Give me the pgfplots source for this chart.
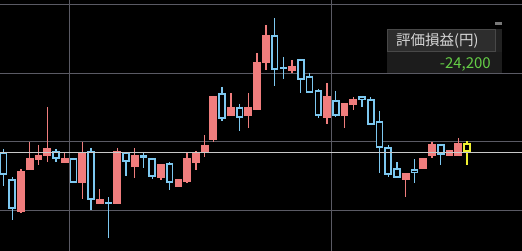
\documentclass[border=0pt]{standalone}
\usepackage{pgfplots}
\pgfplotsset{compat=1.18}
\usepackage{pgfplotstable}
\usepackage{fontspec}
\newfontfamily\cjk{Noto Sans CJK JP}
\definecolor{cred}{RGB}{240,125,125}
\definecolor{cblue}{RGB}{125,200,240}
\definecolor{cyel}{RGB}{240,240,50}
\definecolor{cgrid}{RGB}{90,90,100}
\definecolor{cline}{RGB}{200,200,200}
\definecolor{boxlab}{RGB}{45,45,45}
\definecolor{boxborder}{RGB}{72,72,72}
\definecolor{boxval}{RGB}{28,28,28}
\definecolor{boxside}{RGB}{34,34,34}
\definecolor{tlab}{RGB}{215,215,215}
\definecolor{tval}{RGB}{100,205,70}
\definecolor{cdash}{RGB}{120,120,120}

% columns: index, body top, body bottom, high, low (price axis drawn downward-reversed)
\pgfplotstableread{
i bt bb h l
3 171 212 169 213
4 158 170 142 170
5 155 160 145 165
6 148 156 107 162
8 158 163 153 163
10 152 183 142 199
12 199 204 189 204
14 151 204 148 204
16 155 167 148 178
19 164 178 164 180
21 179 187 179 187
22 158 182 153 183
23 152 163 151 170
24 145 153 135 157
25 96 140 96 142
27 107 116 93 116
29 107 116 93 128
30 62 110 53 110
31 35 63 25 70
34 66 71 60 73
38 96 118 83 124
40 103 116 103 128
41 99 105 97 110
47 173 180 173 197
49 158 169 158 169
50 144 156 142 158
52 150 156 150 156
53 143 156 138 156
}\redtab

\pgfplotstableread{
i bt bb h l
1 152 175 149 186
2 179 209 177 220
7 151 159 149 162
9 158 183 158 183
11 151 200 148 210
13 202 204 197 238
15 152 162 152 176
17 155 158 152 168
18 158 177 158 179
20 163 183 162 190
26 93 119 87 121
28 107 118 104 131
32 35 70 18 86
33 67 69 57 79
35 59 80 59 93
36 76 93 73 93
37 90 116 89 118
39 100 116 91 117
42 96 100 96 107
43 99 125 97 125
44 121 148 111 173
45 147 175 145 177
46 168 178 162 178
48 169 173 159 183
51 144 155 144 165
}\bluetab

\pgfplotstableread{
i bt bb h l
54 143 152 141 165
}\yeltab

\pgfplotsset{
  ebar/.style 2 args={draw=none, forget plot,
    error bars/y dir=plus, error bars/y explicit, error bars/error mark=none,
    error bars/error bar style={draw=#1, line width=#2, line cap=butt}},
}

\begin{document}
\begin{tikzpicture}
\fill[black] (0,0) rectangle (522pt,251pt);
\begin{axis}[at={(0,0)}, anchor=south west, width=522pt, height=251pt,
  scale only axis, hide axis, xmin=0.5998, xmax=60.29, ymin=0, ymax=251,
  y dir=reverse, clip=true]
% grid
\addplot[cgrid, line width=0.9pt, forget plot] coordinates {(0.5998,4) (60.29,4)};
\addplot[cgrid, line width=0.9pt, forget plot] coordinates {(0.5998,73) (60.29,73)};
\addplot[cgrid, line width=0.9pt, forget plot] coordinates {(0.5998,141.3) (60.29,141.3)};
\addplot[cgrid, line width=0.9pt, forget plot] coordinates {(0.5998,210.3) (60.29,210.3)};
\addplot[cgrid, line width=0.9pt, forget plot] coordinates {(8.5,0) (8.5,251)};
\addplot[cgrid, line width=0.9pt, forget plot] coordinates {(38.55,0) (38.55,251)};
% red (filled) candles
\addplot[ebar={cred}{1.3pt}] table[x=i, y=h, y error plus expr={\thisrow{l}-\thisrow{h}}] {\redtab};
\addplot[ebar={cred}{7.8pt}] table[x=i, y=bt, y error plus expr={\thisrow{bb}-\thisrow{bt}}] {\redtab};
% blue (hollow) candles
\addplot[ebar={cblue}{1.3pt}] table[x=i, y=h, y error plus expr={\thisrow{l}-\thisrow{h}}] {\bluetab};
\addplot[ebar={cblue}{7.6pt}] table[x=i, y=bt, y error plus expr={\thisrow{bb}-\thisrow{bt}}] {\bluetab};
\addplot[ebar={black}{4.2pt}] table[x=i, y expr={\thisrow{bt}+1.7}, y error plus expr={max(\thisrow{bb}-\thisrow{bt}-3.4,0)}] {\bluetab};
% yellow (current) candle
\addplot[ebar={cyel}{1.5pt}] table[x=i, y=h, y error plus expr={\thisrow{l}-\thisrow{h}}] {\yeltab};
\addplot[ebar={cyel}{7.6pt}] table[x=i, y=bt, y error plus expr={\thisrow{bb}-\thisrow{bt}}] {\yeltab};
\addplot[ebar={black}{4.0pt}] table[x=i, y expr={\thisrow{bt}+1.8}, y error plus expr={max(\thisrow{bb}-\thisrow{bt}-3.6,0)}] {\yeltab};
% reference line
\addplot[cline, line width=0.9pt, forget plot] coordinates {(0.5998,152.3) (60.29,152.3)};
\end{axis}
% P/L panel
\fill[boxval] (387pt,178pt) rectangle (502pt,199pt);
\fill[boxside] (495pt,199pt) rectangle (502pt,222pt);
\filldraw[fill=boxlab, draw=boxborder, line width=0.8pt] (387.4pt,199.4pt) rectangle (495pt,221.6pt);
\fill[cdash] (495pt,226pt) rectangle (502pt,229pt);
\node[anchor=base west, inner sep=0, text=tlab, font=\cjk\fontsize{14.5}{16}\selectfont] at (396pt,205pt) {評価損益(円)};
\node[anchor=base east, inner sep=0, text=tval, font=\cjk\fontsize{15}{17}\selectfont] at (491pt,182pt) {-24,200};
\end{tikzpicture}
\end{document}
